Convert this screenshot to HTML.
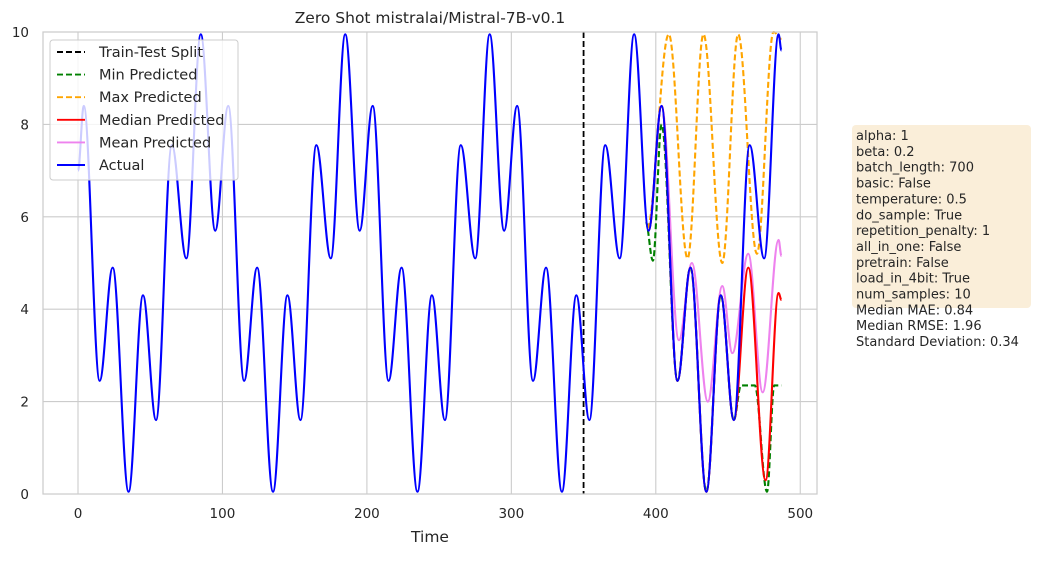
<!DOCTYPE html>
<html><head><meta charset="utf-8">
<style>
body{margin:0;background:#fff;font-family:"Liberation Sans","DejaVu Sans",sans-serif;}
svg text{font-family:"DejaVu Sans","Liberation Sans",sans-serif;fill:#262626;}
</style></head>
<body>
<svg id="chart" width="1040" height="556" viewBox="0 0 1040 556" xmlns="http://www.w3.org/2000/svg">
<rect x="0" y="0" width="1040" height="556" fill="#fff"/>
<g id="grid"></g>
<g id="series"></g>
<rect x="43" y="32" width="774" height="462" fill="none" stroke="#cccccc" stroke-width="1.25"/>
<g id="ticks"></g>
<text x="430" y="23" text-anchor="middle" font-size="15.5">Zero Shot mistralai/Mistral-7B-v0.1</text>
<text x="430" y="542" text-anchor="middle" font-size="15.5">Time</text>
<g>
<rect x="50" y="40" width="188" height="140" rx="3" fill="#fff" fill-opacity="0.8" stroke="#cccccc"/>
<g id="legend-items"></g>
</g>
<g>
<rect x="852" y="125" width="179" height="183" rx="4" fill="#f5deb3" fill-opacity="0.5"/>
<g id="params" font-size="13"></g>
</g>
</svg>
<script>
const xTicks=[0,100,200,300,400,500];
const yTicks=[0,2,4,6,8,10];
const splitTime=350;
const actualT=[0,4,15,24,35,45,54,65,75,85,95,104,115,124,135,145,154,165,175,185,195,204,215,224,235,245,254,265,275,285,295,304,315,324,335,345,354,365,375,385,395,404,415,424,435,445,454,465,475,485,487];
const actualV=[7.0,8.4,2.45,4.9,0.05,4.3,1.6,7.55,5.1,9.95,5.7,8.4,2.45,4.9,0.05,4.3,1.6,7.55,5.1,9.95,5.7,8.4,2.45,4.9,0.05,4.3,1.6,7.55,5.1,9.95,5.7,8.4,2.45,4.9,0.05,4.3,1.6,7.55,5.1,9.95,5.7,8.4,2.45,4.9,0.05,4.3,1.6,7.55,5.1,9.95,9.6];
const minT=[393,398,404,415,424,435,445,454,459,468.5,477,482,487];
const minV=[5.9,5.05,8.0,2.45,4.9,0.05,4.3,1.6,2.35,2.35,0.05,2.35,2.35];
const maxT=[394,409,422,433,446,457,470,481.5,487];
const maxV=[5.75,9.95,5.1,9.95,5.0,9.95,5.2,10.0,9.85];
const medT=[395,404,415,424,435,445,454,464,476,485,487];
const medV=[5.7,8.4,2.45,4.9,0.05,4.3,1.6,4.9,0.3,4.35,4.2];
const meanT=[395,404,416,425,436,446,453,464,474,485,487];
const meanV=[5.7,8.4,3.33,5.0,2.0,4.5,3.05,5.2,2.2,5.5,5.15];
const params=["alpha: 1","beta: 0.2","batch_length: 700","basic: False","temperature: 0.5","do_sample: True","repetition_penalty: 1","all_in_one: False","pretrain: False","load_in_4bit: True","num_samples: 10","Median MAE: 0.84","Median RMSE: 1.96","Standard Deviation: 0.34"];

const NS="http://www.w3.org/2000/svg";
const X=t=>78+t*1.4445;
const Y=v=>494-v*46.2;
function mk(tag,attrs,parent){const e=document.createElementNS(NS,tag);for(const k in attrs)e.setAttribute(k,attrs[k]);parent.appendChild(e);return e;}
const grid=document.getElementById('grid'),ticks=document.getElementById('ticks'),series=document.getElementById('series');
xTicks.forEach(t=>{
  const l=mk('line',{x1:X(t),x2:X(t),y1:32,y2:494,stroke:'#cccccc','stroke-width':1.1},grid);
  
  
  const tx=mk('text',{x:X(t),y:518,'text-anchor':'middle','font-size':13.5},ticks);
  tx.textContent=t;
  
  
});
yTicks.forEach(v=>{
  const l=mk('line',{x1:43,x2:817,y1:Y(v),y2:Y(v),stroke:'#cccccc','stroke-width':1.1},grid);
  
  
  const tx=mk('text',{x:29,y:Y(v)+5,'text-anchor':'end','font-size':13.5},ticks);
  tx.textContent=v;
  
  
});
function pathD(T,V){
  let d='M'+X(T[0]).toFixed(2)+','+Y(V[0]).toFixed(2);
  for(let i=1;i<T.length;i++){
    const x0=X(T[i-1]),y0=Y(V[i-1]),x1=X(T[i]),y1=Y(V[i]);const dx=(x1-x0)*0.36;
    d+=' C'+(x0+dx).toFixed(2)+','+y0.toFixed(2)+' '+(x1-dx).toFixed(2)+','+y1.toFixed(2)+' '+x1.toFixed(2)+','+y1.toFixed(2);
  }
  return d;
}
const sp=mk('line',{x1:X(splitTime),x2:X(splitTime),y1:32,y2:494,stroke:'#000','stroke-width':1.8,'stroke-dasharray':'6,3'},series);


const defs=[
 ['min-predicted-line',minT,minV,'green','6,3'],
 ['max-predicted-line',maxT,maxV,'orange','6,3'],
 ['mean-predicted-line',meanT,meanV,'violet',''],
 ['median-predicted-line',medT,medV,'red',''],
 ['actual-line',actualT,actualV,'blue','']
];
defs.forEach(([n,T,V,c,da])=>{
  const p=mk('path',{d:pathD(T,V),fill:'none',stroke:c,'stroke-width':2.1,'stroke-linejoin':'round'},series);
  if(da)p.setAttribute('stroke-dasharray',da);
  
  
});
const leg=[['Train-Test Split','#000','6,3'],['Min Predicted','green','6,3'],['Max Predicted','orange','6,3'],['Median Predicted','red',''],['Mean Predicted','violet',''],['Actual','blue','']];
const lg=document.getElementById('legend-items');
leg.forEach(([t,c,da],i)=>{
  const y=52+i*22.6;
  const l=mk('line',{x1:57,x2:85,y1:y,y2:y,stroke:c,'stroke-width':1.9},lg);
  if(da)l.setAttribute('stroke-dasharray',da);
  
  
  const tx=mk('text',{x:99,y:y+5,'font-size':14.5},lg);
  tx.textContent=t;
  
  
});
const pg=document.getElementById('params');
params.forEach((t,i)=>{
  const tx=mk('text',{x:856,y:140+i*15.85,'font-size':13},pg);
  tx.textContent=t;
  
  
});
</script>
</body></html>
